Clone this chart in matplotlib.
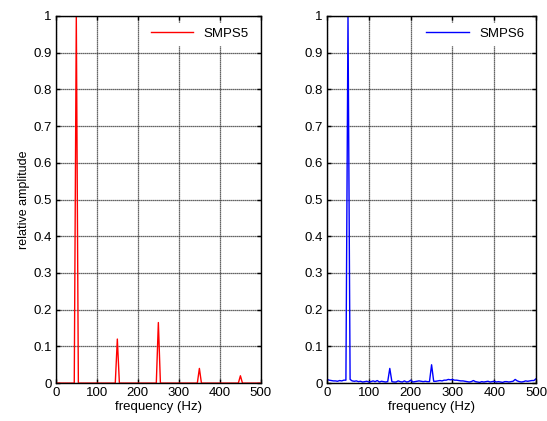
import matplotlib
matplotlib.use("Agg")
import matplotlib.pyplot as plt
import numpy as np

plt.rcParams['font.family'] = ['Liberation Sans', 'DejaVu Sans']
plt.rcParams['font.size'] = 9.5

# frequency grid, 5 Hz steps
freq = np.arange(0, 505, 5)

# SMPS5: clean harmonics
smps5 = np.zeros(len(freq))
smps5[10] = 1.0     # 50 Hz
smps5[30] = 0.12    # 150 Hz
smps5[50] = 0.165   # 250 Hz
smps5[70] = 0.04    # 350 Hz
smps5[90] = 0.02    # 450 Hz

# SMPS6: fundamental + small harmonics + noise floor
smps6 = [0.010, 0.008, 0.007, 0.006, 0.006, 0.005, 0.007, 0.006, 0.008, 0.008,
         1.000, 0.010, 0.006, 0.005, 0.006, 0.004, 0.005, 0.003, 0.004, 0.005,
         0.003, 0.004, 0.006, 0.004, 0.007, 0.003, 0.005, 0.004, 0.003, 0.004,
         0.040, 0.004, 0.003, 0.003, 0.006, 0.004, 0.003, 0.006, 0.003, 0.004,
         0.008, 0.003, 0.004, 0.005, 0.006, 0.005, 0.004, 0.005, 0.004, 0.004,
         0.050, 0.005, 0.005, 0.006, 0.007, 0.006, 0.008, 0.008, 0.010, 0.009,
         0.010, 0.008, 0.008, 0.007, 0.006, 0.006, 0.005, 0.004, 0.003, 0.004,
         0.007, 0.004, 0.003, 0.002, 0.004, 0.003, 0.004, 0.005, 0.003, 0.004,
         0.005, 0.003, 0.004, 0.003, 0.002, 0.004, 0.004, 0.003, 0.004, 0.005,
         0.010, 0.006, 0.004, 0.003, 0.004, 0.006, 0.005, 0.006, 0.007, 0.007,
         0.012]

fig = plt.figure(figsize=(5.47, 4.21), dpi=100)
ax1 = fig.add_axes([0.102, 0.090, 0.375, 0.872])
ax2 = fig.add_axes([0.598, 0.090, 0.382, 0.872])

for ax, y, c, lab in [(ax1, smps5, 'red', 'SMPS5'), (ax2, smps6, 'blue', 'SMPS6')]:
    ax.plot(freq, y, color=c, lw=1.0, label=lab)
    ax.set_xlim(0, 500)
    ax.set_ylim(0, 1)
    ax.set_xticks(np.arange(0, 501, 100))
    ax.set_yticks(np.arange(0, 1.01, 0.1))
    ax.set_yticklabels(['0', '0.1', '0.2', '0.3', '0.4', '0.5', '0.6', '0.7', '0.8', '0.9', '1'])
    ax.grid(True, color='#333333', linestyle=(0, (1, 0.6)), linewidth=0.9)
    ax.tick_params(direction='in', length=3, width=1.0, top=True, right=True, pad=3)
    for s in ax.spines.values():
        s.set_linewidth(1.0)
    ax.set_xlabel('frequency (Hz)', labelpad=1)
    leg = ax.legend(loc='upper right', frameon=True, fancybox=False, handlelength=3.2,
                    borderaxespad=0.5, edgecolor='white', framealpha=1)

ax1.set_ylabel('relative amplitude', labelpad=2, fontsize=9)

plt.savefig('out.png', dpi=100)
